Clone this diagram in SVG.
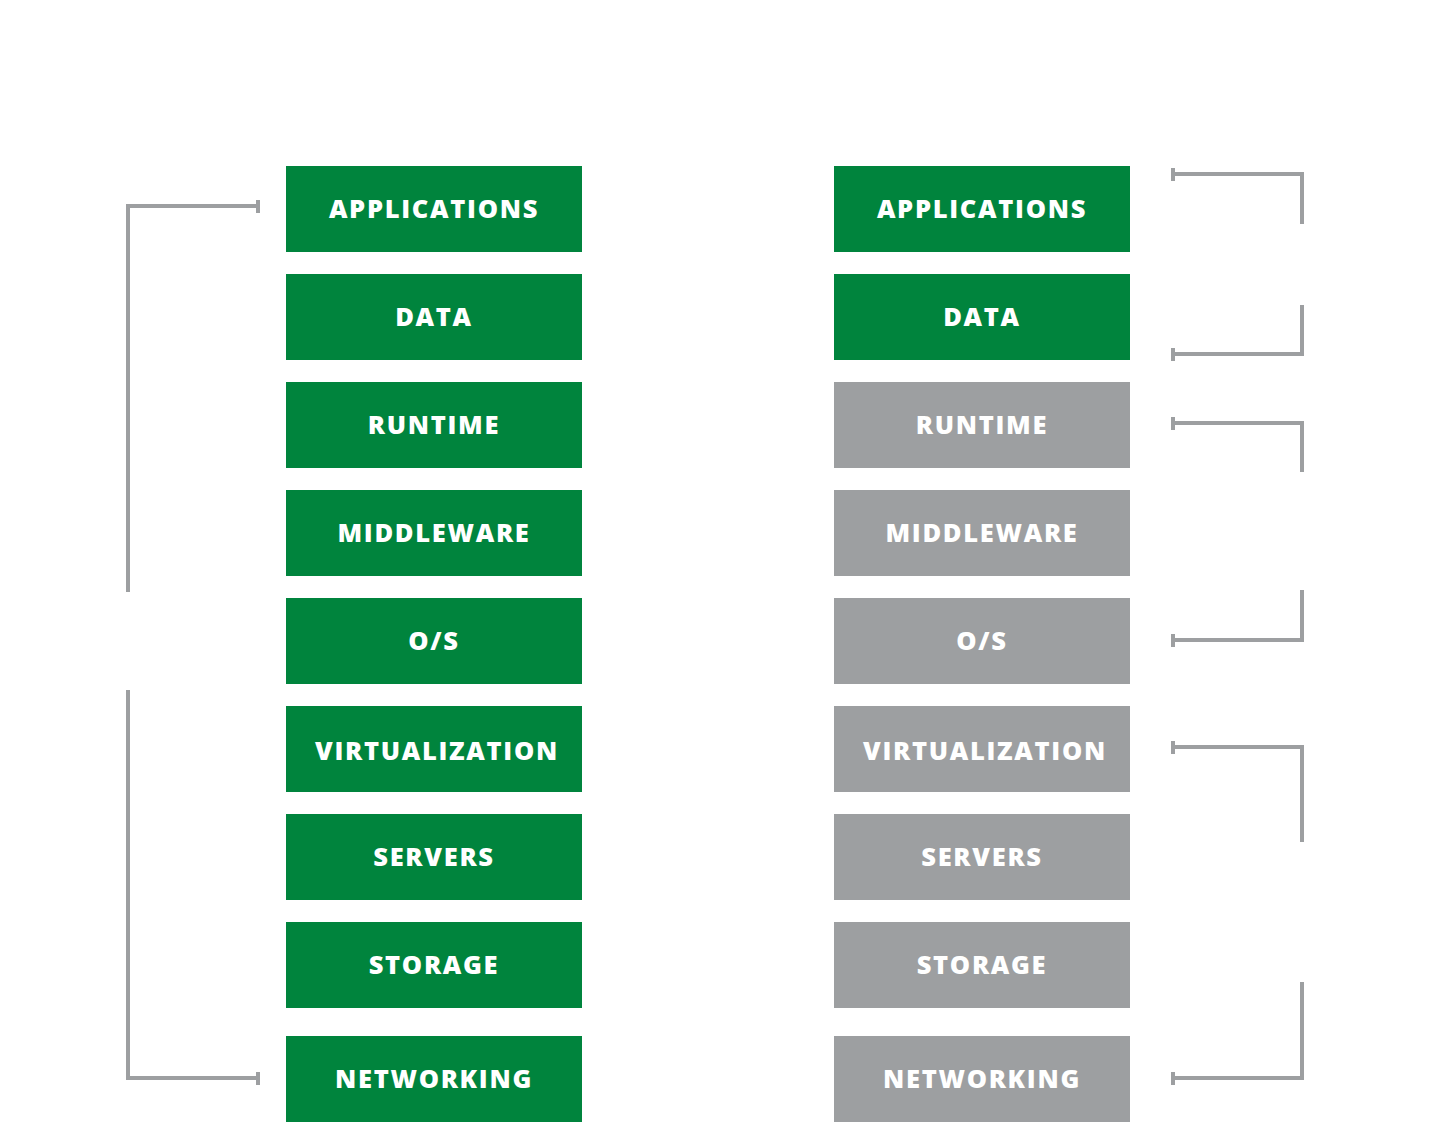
<svg xmlns="http://www.w3.org/2000/svg" width="1454" height="1148" viewBox="0 0 1454 1148">
  <style>
    .box-green { fill: #00843d; }
    .box-gray { fill: #9d9fa1; }
    .label { font-family: "Open Sans", "Liberation Sans", sans-serif; font-weight: 800; font-size: 25.5px; letter-spacing: 1.7px; fill: #ffffff; text-anchor: middle; }
    .title { font-family: "Open Sans", "Liberation Sans", sans-serif; font-weight: 400; font-size: 42px; fill: #ffffff; text-anchor: middle; }
    .side { font-family: "Open Sans", "Liberation Sans", sans-serif; font-weight: 400; font-size: 38px; fill: #ffffff; text-anchor: middle; }
    .vs { font-family: "Open Sans", "Liberation Sans", sans-serif; font-weight: 400; font-size: 32px; fill: #ffffff; text-anchor: middle; }
    .bracket { fill: none; stroke: #9d9fa1; stroke-width: 4; }
    .tick { fill: none; stroke: #9d9fa1; stroke-width: 4; }
  </style>

  <rect width="1454" height="1148" fill="#ffffff"/>

  <!-- column headings -->
  <g id="title-traditional">
    <text class="title" x="431" y="72">Traditional</text>
    <text class="title" x="431" y="127">Software</text>
  </g>
  <g id="title-appfog">
    <text class="title" x="982" y="72">AppFog</text>
    <text class="title" x="982" y="127">Public PaaS</text>
  </g>
  <g id="vs">
    <text class="vs" x="706" y="655">VS</text>
  </g>

  <!-- traditional stack -->
  <g id="t-applications"><rect class="box-green" x="286" y="166" width="296" height="86"/><text class="label" x="434" y="218">APPLICATIONS</text></g>
  <g id="t-data"><rect class="box-green" x="286" y="274" width="296" height="86"/><text class="label" x="434" y="326">DATA</text></g>
  <g id="t-runtime"><rect class="box-green" x="286" y="382" width="296" height="86"/><text class="label" x="434" y="434">RUNTIME</text></g>
  <g id="t-middleware"><rect class="box-green" x="286" y="490" width="296" height="86"/><text class="label" x="434" y="542">MIDDLEWARE</text></g>
  <g id="t-os"><rect class="box-green" x="286" y="598" width="296" height="86"/><text class="label" x="434" y="650">O/S</text></g>
  <g id="t-virtualization"><rect class="box-green" x="286" y="706" width="296" height="86"/><text class="label" x="437" y="760">VIRTUALIZATION</text></g>
  <g id="t-servers"><rect class="box-green" x="286" y="814" width="296" height="86"/><text class="label" x="434" y="866">SERVERS</text></g>
  <g id="t-storage"><rect class="box-green" x="286" y="922" width="296" height="86"/><text class="label" x="434" y="974">STORAGE</text></g>
  <g id="t-networking"><rect class="box-green" x="286" y="1036" width="296" height="86"/><text class="label" x="434" y="1088">NETWORKING</text></g>

  <!-- PaaS stack -->
  <g id="p-applications"><rect class="box-green" x="834" y="166" width="296" height="86"/><text class="label" x="982" y="218">APPLICATIONS</text></g>
  <g id="p-data"><rect class="box-green" x="834" y="274" width="296" height="86"/><text class="label" x="982" y="326">DATA</text></g>
  <g id="p-runtime"><rect class="box-gray" x="834" y="382" width="296" height="86"/><text class="label" x="982" y="434">RUNTIME</text></g>
  <g id="p-middleware"><rect class="box-gray" x="834" y="490" width="296" height="86"/><text class="label" x="982" y="542">MIDDLEWARE</text></g>
  <g id="p-os"><rect class="box-gray" x="834" y="598" width="296" height="86"/><text class="label" x="982" y="650">O/S</text></g>
  <g id="p-virtualization"><rect class="box-gray" x="834" y="706" width="296" height="86"/><text class="label" x="985" y="760">VIRTUALIZATION</text></g>
  <g id="p-servers"><rect class="box-gray" x="834" y="814" width="296" height="86"/><text class="label" x="982" y="866">SERVERS</text></g>
  <g id="p-storage"><rect class="box-gray" x="834" y="922" width="296" height="86"/><text class="label" x="982" y="974">STORAGE</text></g>
  <g id="p-networking"><rect class="box-gray" x="834" y="1036" width="296" height="86"/><text class="label" x="982" y="1088">NETWORKING</text></g>

  <!-- bracket labels -->
  <g id="label-you-manage-left"><text class="side" x="124" y="655">You Manage</text></g>
  <g id="label-you-manage-right"><text class="side" x="1302" y="275">You Manage</text></g>
  <g id="label-cloud-foundry">
    <text class="side" x="1302" y="520">Cloud Foundry</text>
    <text class="side" x="1303" y="568">PaaS</text>
  </g>
  <g id="label-our-cloud">
    <text class="side" x="1302" y="897">Our Cloud</text>
    <text class="side" x="1304" y="948">Infrastructure</text>
  </g>

  <!-- brackets -->
  <g id="connectors">
    <!-- left: whole traditional stack -->
    <path class="bracket" d="M258 206 H128 V592"/>
    <path class="bracket" d="M128 690 V1078 H258"/>
    <path class="tick" d="M258 200 V213 M258 1072 V1085"/>
    <!-- right: applications + data -->
    <path class="bracket" d="M1173 174 H1302 V224"/>
    <path class="bracket" d="M1302 305 V354 H1173"/>
    <path class="tick" d="M1173 168 V181 M1173 348 V361"/>
    <!-- right: runtime to O/S -->
    <path class="bracket" d="M1173 423 H1302 V472"/>
    <path class="bracket" d="M1302 590 V640 H1173"/>
    <path class="tick" d="M1173 417 V430 M1173 634 V647"/>
    <!-- right: virtualization to networking -->
    <path class="bracket" d="M1173 747 H1302 V842"/>
    <path class="bracket" d="M1302 982 V1078 H1173"/>
    <path class="tick" d="M1173 741 V754 M1173 1072 V1085"/>
  </g>
</svg>
